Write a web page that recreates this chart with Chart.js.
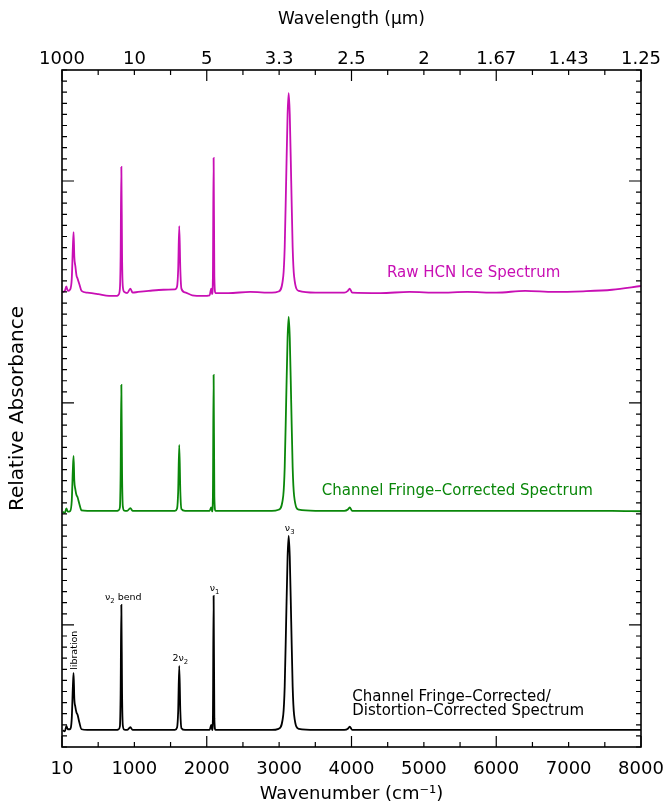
<!DOCTYPE html>
<html>
<head>
<meta charset="utf-8">
<title>HCN ice spectra</title>
<script src="https://cdn.jsdelivr.net/npm/chart.js@4.4.1/dist/chart.umd.min.js"></script>
<style>
  html, body { margin: 0; padding: 0; background: #fff; }
</style>
</head>
<body>
<canvas id="spectrumChart" width="668" height="806"></canvas>
<script>
// DATA
const wavenumbers = [
  10, 40, 60, 80, 110, 135, 150, 160, 170, 185, 200, 215, 240, 270, 350, 500, 650, 760,
  780, 800, 810, 820, 830, 840, 860,
  900, 945, 975, 1050, 1200, 1400, 1560,
  1590, 1605, 1620, 1635, 1650,
  1700, 1800, 1950, 2040, 2062, 2075,
  2085, 2095, 2105,
  2120, 2300, 2600, 2900,
  2992, 3057, 3077, 3097, 3117, 3132, 3147, 3167, 3187, 3207, 3272,
  3500, 3900, 3950, 3975, 4010, 4400, 4800, 5200, 5600, 6000, 6400, 6800, 7200, 7600, 8000
];

const rawSpectrum = [
  1.500, 1.505, 1.525, 1.505, 1.510, 1.560, 1.700, 1.770, 1.660, 1.615, 1.575, 1.560, 1.535, 1.505, 1.497, 1.490, 1.482, 1.482,
  1.487, 1.515, 1.660, 2.063, 1.660, 1.525, 1.500,
  1.495, 1.515, 1.497, 1.500, 1.505, 1.510, 1.512,
  1.525, 1.600, 1.797, 1.600, 1.515,
  1.498, 1.485, 1.482, 1.485, 1.515, 1.490,
  1.570, 2.104, 1.570,
  1.495, 1.495, 1.500, 1.497,
  1.502, 1.570, 1.700, 2.000, 2.300, 2.396, 2.300, 2.000, 1.700, 1.570, 1.505,
  1.497, 1.497, 1.505, 1.515, 1.497, 1.495, 1.500, 1.497, 1.500, 1.497, 1.505, 1.500, 1.503, 1.510, 1.527
];

const fringeCorrected = [
  0.510, 0.505, 0.525, 0.510, 0.512, 0.560, 0.700, 0.761, 0.650, 0.610, 0.585, 0.575, 0.545, 0.516, 0.514, 0.514, 0.514, 0.514,
  0.516, 0.530, 0.680, 1.081, 0.680, 0.535, 0.515,
  0.514, 0.526, 0.514, 0.514, 0.514, 0.514, 0.514,
  0.525, 0.600, 0.811, 0.600, 0.522,
  0.514, 0.514, 0.514, 0.514, 0.530, 0.512,
  0.580, 1.126, 0.580,
  0.514, 0.514, 0.514, 0.514,
  0.519, 0.582, 0.709, 1.002, 1.294, 1.388, 1.294, 1.002, 0.709, 0.582, 0.519,
  0.514, 0.514, 0.520, 0.530, 0.514, 0.514, 0.514, 0.514, 0.514, 0.514, 0.514, 0.514, 0.514, 0.514, 0.512
];

const distortionCorrected = [
  -0.475, -0.480, -0.455, -0.470, -0.470, -0.420, -0.280, -0.216, -0.330, -0.370, -0.395, -0.405, -0.440, -0.470, -0.473, -0.473, -0.473, -0.473,
  -0.471, -0.457, -0.310, 0.090, -0.310, -0.452, -0.472,
  -0.473, -0.461, -0.473, -0.473, -0.473, -0.473, -0.473,
  -0.462, -0.390, -0.185, -0.390, -0.465,
  -0.473, -0.473, -0.473, -0.473, -0.450, -0.474,
  -0.420, 0.131, -0.420,
  -0.473, -0.473, -0.473, -0.473,
  -0.468, -0.405, -0.278, 0.015, 0.307, 0.401, 0.307, 0.015, -0.278, -0.405, -0.468,
  -0.473, -0.473, -0.468, -0.458, -0.473, -0.473, -0.473, -0.473, -0.473, -0.473, -0.473, -0.473, -0.473, -0.473, -0.473
];

// axis labels
const bottomTickValues = [0, 1000, 2000, 3000, 4000, 5000, 6000, 7000, 8000];
const bottomTickLabels = ["10", "1000", "2000", "3000", "4000", "5000", "6000", "7000", "8000"];
const topTickLabels = ["1000", "10", "5", "3.3", "2.5", "2", "1.67", "1.43", "1.25"];

// peak notes on the lowest spectrum
const peakNames = ["libration", "ν2 bend", "2ν2", "ν1", "ν3"];
const peakWavenumbers = [160, 820, 1620, 2095, 3132];

// spectrum captions
const captionLines = [
  ["Raw HCN Ice Spectrum"],
  ["Channel Fringe–Corrected Spectrum"],
  ["Channel Fringe–Corrected/", "Distortion–Corrected Spectrum"]
];
const captionWavenumbers = [4490, 3590, 4010];
const captionLevels = [1.586, 0.604, -0.324];

const MAGENTA = "#c80fb4";
const GREEN = "#0a870a";
const BLACK = "#000000";
const FONT = "'DejaVu Sans', 'Liberation Sans', sans-serif";

const toPoints = (values) => wavenumbers.map((w, i) => ({ x: w, y: values[i] }));

// HELPERS
function drawRich(ctx, text, cx, baseY, size) {
  // digits right after ν are drawn as subscripts
  const parts = [];
  for (let i = 0; i < text.length; i++) {
    parts.push({ ch: text[i], sub: /\d/.test(text[i]) && text[i - 1] === "ν" });
  }
  const fontFor = (p) => `${p.sub ? size * 0.72 : size}px ${FONT}`;
  let total = 0;
  parts.forEach((p) => {
    ctx.font = fontFor(p);
    p.w = ctx.measureText(p.ch).width;
    total += p.w;
  });
  let x = cx - total / 2;
  ctx.textAlign = "left";
  ctx.textBaseline = "alphabetic";
  parts.forEach((p) => {
    ctx.font = fontFor(p);
    ctx.fillText(p.ch, x, baseY + (p.sub ? size * 0.3 : 0));
    x += p.w;
  });
}

// keep the plot box fixed, whatever the label widths
const fixHeight = (h) => (s) => {
  s.height = h;
  s.paddingLeft = 0;
  s.paddingRight = 0;
};

// PLUGINS
const frameTicks = {
  id: "frameTicks",
  afterDraw(chart) {
    const { ctx, chartArea: a, scales } = chart;
    ctx.save();
    ctx.strokeStyle = "#000";
    ctx.lineWidth = 1.6;
    ctx.strokeRect(a.left, a.top, a.right - a.left, a.bottom - a.top);
    ctx.lineWidth = 1.2;
    ctx.beginPath();
    for (let v = 0; v <= 8000; v += 500) {
      const px = scales.x.getPixelForValue(v);
      const len = v % 2000 === 0 ? 11 : 5;
      ctx.moveTo(px, a.bottom);
      ctx.lineTo(px, a.bottom - len);
      ctx.moveTo(px, a.top);
      ctx.lineTo(px, a.top + len);
    }
    for (let i = -11; i <= 50; i++) {
      const py = scales.y.getPixelForValue(i * 0.05);
      const len = i % 20 === 0 ? 12 : 5;
      ctx.moveTo(a.left, py);
      ctx.lineTo(a.left + len, py);
      ctx.moveTo(a.right, py);
      ctx.lineTo(a.right - len, py);
    }
    ctx.stroke();
    ctx.restore();
  }
};

const notes = {
  id: "notes",
  afterDatasetsDraw(chart) {
    const { ctx, scales } = chart;
    const xs = scales.x;
    const ys = scales.y;
    ctx.save();

    // peak names
    ctx.fillStyle = BLACK;
    peakNames.forEach((name, i) => {
      const w = peakWavenumbers[i];
      const top = distortionCorrected[wavenumbers.indexOf(w)];
      const px = xs.getPixelForValue(w);
      const py = ys.getPixelForValue(top);
      if (name === "libration") {
        ctx.save();
        ctx.translate(px + 1, py - 3);
        ctx.rotate(-Math.PI / 2);
        ctx.font = `9.5px ${FONT}`;
        ctx.textAlign = "left";
        ctx.textBaseline = "middle";
        ctx.fillText(name, 0, 0);
        ctx.restore();
      } else {
        drawRich(ctx, name, px + (name === "ν2 bend" ? 2 : 1), py - 5, 9.5);
      }
    });

    // captions
    const colors = [MAGENTA, GREEN, BLACK];
    ctx.font = `15px ${FONT}`;
    ctx.textAlign = "left";
    ctx.textBaseline = "middle";
    captionLines.forEach((lines, i) => {
      ctx.fillStyle = colors[i];
      const px = xs.getPixelForValue(captionWavenumbers[i]);
      const py = ys.getPixelForValue(captionLevels[i]);
      lines.forEach((line, j) => ctx.fillText(line, px, py + j * 14));
    });
    ctx.restore();
  }
};

// CHART
const tickFont = { family: FONT, size: 18 };

new Chart(document.getElementById("spectrumChart"), {
  type: "line",
  data: {
    datasets: [
      { label: "Raw HCN Ice Spectrum", data: toPoints(rawSpectrum), borderColor: MAGENTA, borderWidth: 1.8 },
      { label: "Channel Fringe-Corrected Spectrum", data: toPoints(fringeCorrected), borderColor: GREEN, borderWidth: 1.8 },
      { label: "Distortion-Corrected Spectrum", data: toPoints(distortionCorrected), borderColor: BLACK, borderWidth: 1.8 }
    ]
  },
  options: {
    responsive: false,
    animation: false,
    elements: { point: { radius: 0 }, line: { cubicInterpolationMode: "monotone" } },
    layout: { padding: { left: 0, right: 27, top: 0, bottom: 0 } },
    plugins: { legend: { display: false }, tooltip: { enabled: false } },
    scales: {
      x: {
        type: "linear",
        position: "bottom",
        min: 0,
        max: 8000,
        afterBuildTicks: (s) => { s.ticks = bottomTickValues.map((v) => ({ value: v })); },
        afterFit: fixHeight(59),
        grid: { display: false, drawTicks: false },
        border: { display: false },
        ticks: {
          autoSkip: false,
          maxRotation: 0,
          padding: 12,
          color: "#000",
          font: tickFont,
          callback: (v, i) => bottomTickLabels[i]
        },
        title: {
          display: true,
          text: "Wavenumber (cm⁻¹)",
          color: "#000",
          font: { family: FONT, size: 18 },
          padding: { top: 0, bottom: 1 }
        }
      },
      x2: {
        type: "linear",
        position: "top",
        min: 0,
        max: 8000,
        afterBuildTicks: (s) => { s.ticks = bottomTickValues.map((v) => ({ value: v })); },
        afterFit: fixHeight(70),
        grid: { display: false, drawTicks: false },
        border: { display: false },
        ticks: {
          autoSkip: false,
          maxRotation: 0,
          padding: 0,
          color: "#000",
          font: tickFont,
          callback: (v, i) => topTickLabels[i]
        },
        title: {
          display: true,
          text: "Wavelength (μm)",
          color: "#000",
          font: { family: FONT, size: 17 },
          padding: { top: 9, bottom: 0 }
        }
      },
      y: {
        min: -0.55,
        max: 2.5,
        afterFit: (s) => { s.width = 62; s.paddingTop = 0; s.paddingBottom = 0; },
        grid: { display: false, drawTicks: false },
        border: { display: false },
        ticks: { display: false },
        title: {
          display: true,
          text: "Relative Absorbance",
          color: "#000",
          font: { family: FONT, size: 20 },
          padding: { top: 6, bottom: 0 }
        }
      }
    }
  },
  plugins: [frameTicks, notes]
});
</script>
</body>
</html>
